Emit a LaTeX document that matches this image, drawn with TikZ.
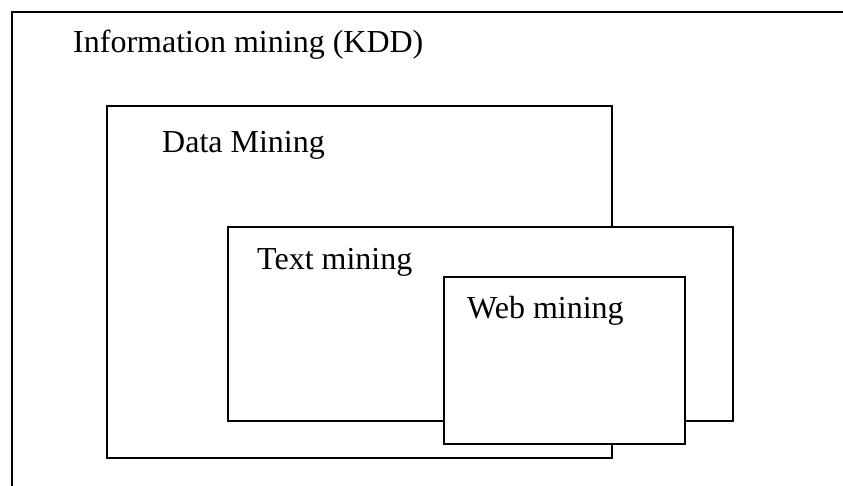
\documentclass[tikz,border=0pt]{standalone}
\usepackage{fontspec}
\setmainfont{Liberation Serif}
\begin{document}
\begin{tikzpicture}[x=1pt,y=-1pt,
  box/.style={draw=black, line width=2.4pt, fill=white, inner sep=0pt, outer sep=0pt, anchor=north west},
  lbl/.style={anchor=base west, inner sep=0pt, font=\fontsize{32}{36}\selectfont}]
\clip (0,0) rectangle (843,486);
\fill[white] (0,0) rectangle (843,486);
\node[box, minimum width=860pt, minimum height=500pt] (kdd) at (12,12) {};
\node[lbl] (kddl) at (73,53) {Information mining (KDD)};
\node[box, minimum width=505pt, minimum height=352pt] (dm) at (107,106) {};
\node[lbl] (dml) at (162,153) {Data Mining};
\node[box, minimum width=505pt, minimum height=194pt] (tm) at (228,227) {};
\node[lbl] (tml) at (257,270) {Text mining};
\node[box, minimum width=241pt, minimum height=167pt] (wm) at (444,277) {};
\node[lbl] (wml) at (467,318) {Web mining};
\end{tikzpicture}
\end{document}
